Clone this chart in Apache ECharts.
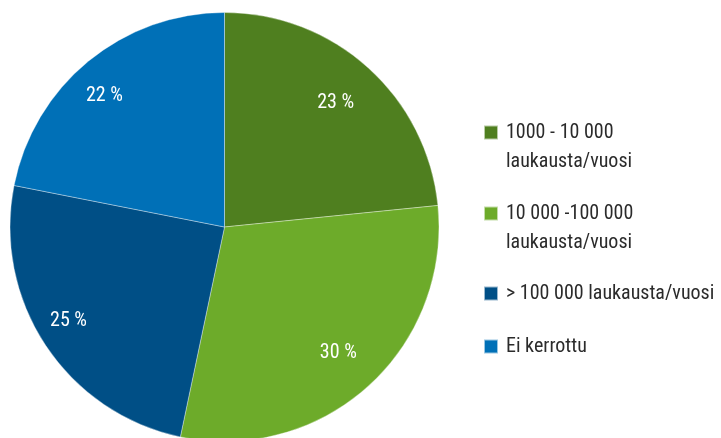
<!DOCTYPE html>
<html>
<head>
<meta charset="utf-8">
<script src="https://cdn.jsdelivr.net/npm/echarts@6/dist/echarts.min.js"></script>
<style>
  html, body { margin: 0; padding: 0; background: #fff; }
  #chart { width: 721px; height: 438px; }
</style>
</head>
<body>
<div id="chart"></div>
<script>
// luokat ja osuudet (%)
var categories = [
  "1000 - 10 000\nlaukausta/vuosi",
  "10 000 -100 000\nlaukausta/vuosi",
  "> 100 000 laukausta/vuosi",
  "Ei kerrottu"
];
var shares = [23.4, 29.9, 24.8, 21.9];
var colors = ["#4f7f1f", "#6dab2a", "#004f86", "#0070b7"];
// small nudges so labels sit where the original put them
var labelOffsets = [[-3, 2], [0, -1], [-14, 0], [-12, 1]];

var font = '"Roboto Condensed", "DejaVu Sans Condensed", sans-serif';

var pieData = categories.map(function (name, i) {
  return { name: name, value: shares[i], itemStyle: { color: colors[i] } };
});
// label overlay, same slices but transparent
var labelData = categories.map(function (name, i) {
  return { name: name, value: shares[i], label: { offset: labelOffsets[i] } };
});

var legendTops = [84, 165, 274, 327];
var legends = categories.map(function (name, i) {
  var twoLines = name.indexOf("\n") >= 0;
  return {
    orient: "vertical",
    left: 478,
    top: legendTops[i],
    data: [name],
    icon: "rect",
    itemWidth: 14,
    itemHeight: 14,
    itemGap: 0,
    selectedMode: false,
    // blank first line keeps the icon level with the first text line
    formatter: function (n) { return twoLines ? "\u00a0\n" + n : n; },
    textStyle: {
      fontFamily: font,
      fontSize: 20,
      color: "#2b2b2b",
      lineHeight: 29,
      padding: [0, 0, 0, 3]
    }
  };
});

var chart = echarts.init(document.getElementById("chart"));
chart.setOption({
  animation: false,
  legend: legends,
  series: [
    {
      type: "pie",
      center: [224.5, 227],
      radius: 214.5,
      startAngle: 90,
      clockwise: true,
      label: { show: false },
      labelLine: { show: false },
      itemStyle: { borderColor: "rgba(255,255,255,0.6)", borderWidth: 0.6 },
      emphasis: { disabled: true },
      data: pieData
    },
    {
      type: "pie",
      center: [224.5, 227],
      radius: [120, 214.5],
      startAngle: 90,
      clockwise: true,
      silent: true,
      itemStyle: { color: "rgba(0,0,0,0)" },
      label: {
        show: true,
        position: "inside",
        color: "#ffffff",
        fontFamily: font,
        fontSize: 20,
        formatter: function (p) { return Math.round(p.value) + " %"; }
      },
      labelLine: { show: false },
      legendHoverLink: false,
      data: labelData
    }
  ]
});
</script>
</body>
</html>
